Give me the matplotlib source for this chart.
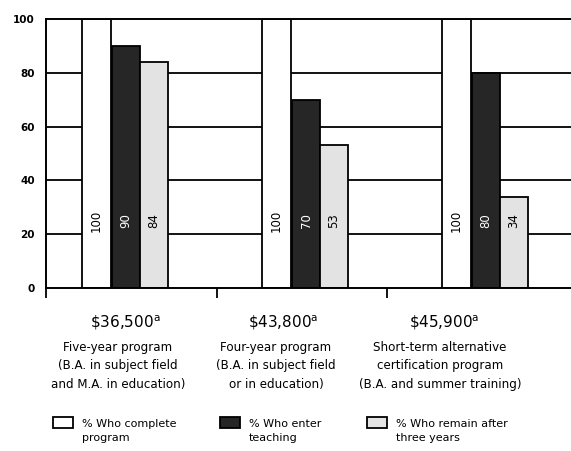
import matplotlib.pyplot as plt
import numpy as np

# program cost per teacher and the three outcome series (percent)
costs = [r'\$36,500$^\mathrm{a}$', r'\$43,800$^\mathrm{a}$', r'\$45,900$^\mathrm{a}$']
programs = ['Five-year program\n(B.A. in subject field\nand M.A. in education)',
            'Four-year program\n(B.A. in subject field\nor in education)',
            'Short-term alternative\ncertification program\n(B.A. and summer training)']
complete = [100, 100, 100]
enter = [90, 70, 80]
remain = [84, 53, 34]
series_names = ['% Who complete\nprogram', '% Who enter\nteaching', '% Who remain after\nthree years']
colors = ['#ffffff', '#262626', '#e3e3e3']
yticks = [0, 20, 40, 60, 80, 100]

plt.rcParams['font.family'] = 'DejaVu Sans'

fig = plt.figure(figsize=(5.71, 4.51), dpi=100)
ax = fig.add_axes([46/571, 1 - 288/451, (571 - 46)/571, (288 - 19)/451])

x = np.arange(len(costs))
width = 0.16
offsets = [-0.165, 0.0, 0.155]
series = [complete, enter, remain]

for yv in yticks[1:-1]:
    ax.axhline(yv, color='black', lw=1.3, zorder=0)

for vals, off, col in zip(series, offsets, colors):
    bars = ax.bar(x + off, vals, width, color=col, edgecolor='black', lw=1.3, zorder=2)
    tc = 'white' if col == '#262626' else 'black'
    for b, v in zip(bars, vals):
        ax.text(b.get_x() + b.get_width()/2, 25, str(v), rotation=90,
                ha='center', va='center', fontsize=8.5, color=tc, zorder=3)

ax.set_xlim(-0.445, 2.472)
ax.set_ylim(0, 100)
ax.set_yticks(yticks)
ax.set_yticklabels([str(t) for t in yticks], fontsize=7.5, fontweight='bold')
ax.tick_params(axis='y', length=0, pad=8)
ax.set_xticks([-0.445, 0.505, 1.45])
ax.set_xticklabels([])
ax.tick_params(axis='x', length=7, width=1.3, direction='out')
ax.spines['right'].set_visible(False)
for s in ['left', 'top', 'bottom']:
    ax.spines[s].set_linewidth(1.4)

# group captions below the axis
for cx, c in zip([125, 283, 444], costs):
    fig.text(cx/571, 1 - 323/451, c, ha='center', va='center', fontsize=11)
for cx, p in zip([118, 276, 440], programs):
    fig.text(cx/571, 1 - 366/451, p, ha='center', va='center', fontsize=8.6, linespacing=1.55)

# legend drawn as boxes with two-line labels
for lx, col, name in zip([53, 220, 367], colors, series_names):
    fig.patches.append(plt.Rectangle((lx/571, 1 - 428/451), 20/571, 11/451,
                                     transform=fig.transFigure, facecolor=col,
                                     edgecolor='black', lw=1.3))
    fig.text((lx + 29)/571, 1 - 431/451, name, ha='left', va='center', fontsize=8, linespacing=1.5)

fig.savefig('out.png', dpi=100)
